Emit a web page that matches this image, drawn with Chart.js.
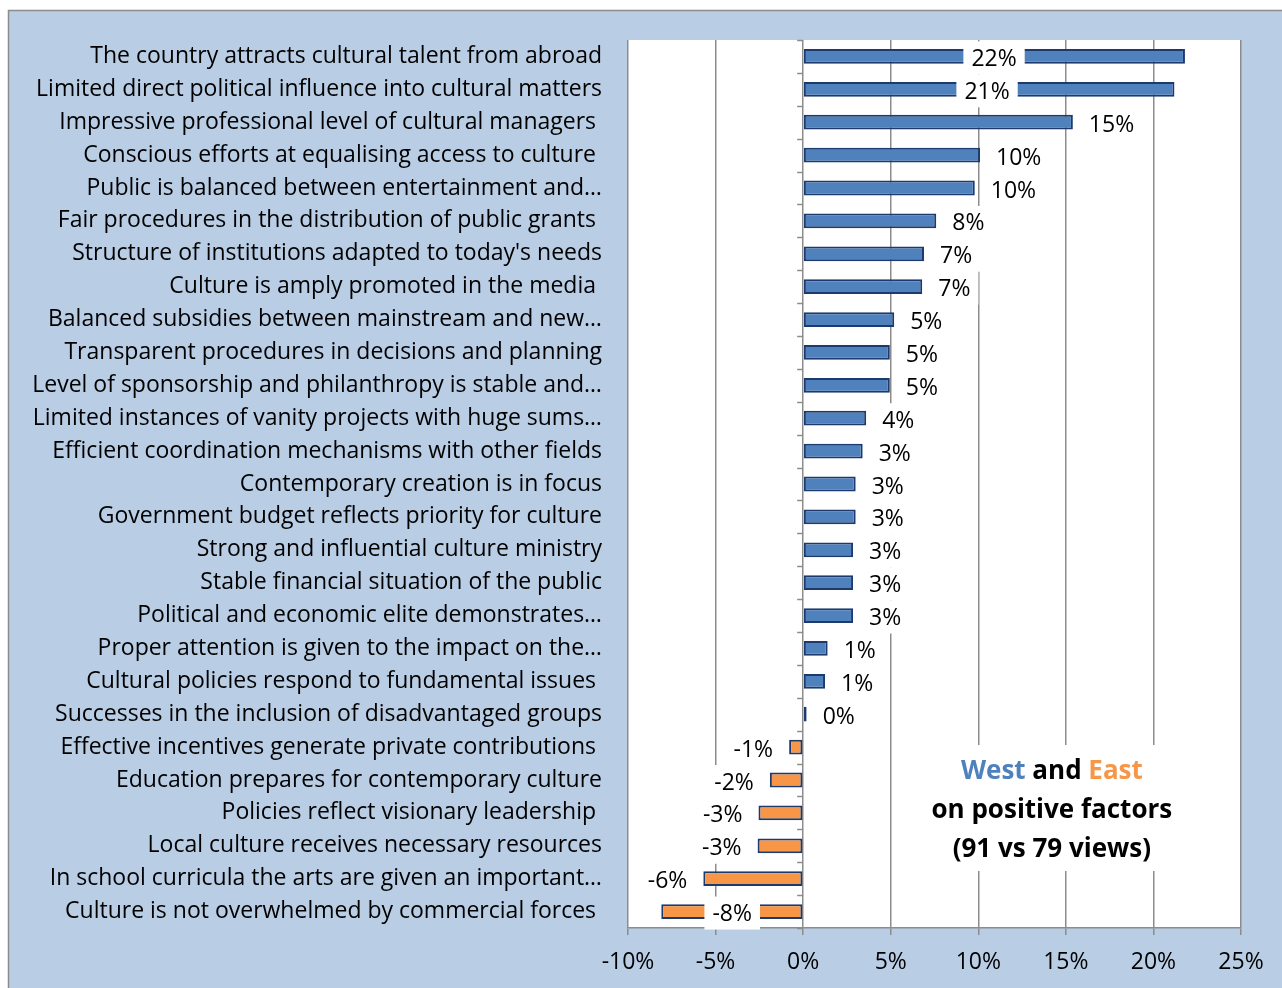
<!DOCTYPE html>
<html>
<head>
<meta charset="utf-8">
<script src="https://cdn.jsdelivr.net/npm/chart.js@4.4.1/dist/chart.umd.min.js"></script>
<style>
  html, body { margin: 0; padding: 0; background: #ffffff; }
  #wrap { width: 1282px; height: 988px; position: relative; }
</style>
</head>
<body>
<div id="wrap"><canvas id="myChart" width="1282" height="988"></canvas></div>
<script>
// ---- data ----
const categories = [
  'The country attracts cultural talent from abroad',
  'Limited direct political influence into cultural matters',
  'Impressive professional level of cultural managers ',
  'Conscious efforts at equalising access to culture ',
  'Public is balanced between entertainment and…',
  'Fair procedures in the distribution of public grants ',
  "Structure of institutions adapted to today's needs",
  'Culture is amply promoted in the media ',
  'Balanced subsidies between mainstream and new…',
  'Transparent procedures in decisions and planning',
  'Level of sponsorship and philanthropy is stable and…',
  'Limited instances of vanity projects with huge sums…',
  'Efficient coordination mechanisms with other fields',
  'Contemporary creation is in focus',
  'Government budget reflects priority for culture',
  'Strong and influential culture ministry',
  'Stable financial situation of the public',
  'Political and economic elite demonstrates…',
  'Proper attention is given to the impact on the…',
  'Cultural policies respond to fundamental issues ',
  'Successes in the inclusion of disadvantaged groups',
  'Effective incentives generate private contributions ',
  'Education prepares for contemporary culture',
  'Policies reflect visionary leadership ',
  'Local culture receives necessary resources',
  'In school curricula the arts are given an important…',
  'Culture is not overwhelmed by commercial forces '
];
const values = [21.8, 21.2, 15.4, 10.1, 9.8, 7.6, 6.9, 6.8, 5.2, 4.95, 4.95, 3.6, 3.4, 3.0, 3.0, 2.85, 2.85, 2.85, 1.4, 1.25, 0.2, -0.8, -1.9, -2.55, -2.6, -5.7, -8.1];
// labels that were dragged onto the bar (value where the label is centred)
const labelAt = [10.9, 10.5, null, null, null, null, null, null, null, null, null, null, null, null, null, null, null, null, null, null, null, null, null, null, null, null, -4.05];
const xTicks = [-10, -5, 0, 5, 10, 15, 20, 25];

const FONT = '"Open Sans", Lato, sans-serif';
const FSIZE = 23;

const barColors = values.map(v => v >= 0.5 ? '#4f81bd' : (v < 0 ? '#f79646' : '#e8a09a'));

// light blue frame behind everything
const framePlugin = {
  id: 'frame',
  beforeDraw(chart) {
    const c = chart.ctx;
    c.save();
    c.fillStyle = '#ffffff';
    c.fillRect(0, 0, chart.width, chart.height);
    c.fillStyle = '#b9cde5';
    c.fillRect(8, 10, chart.width, chart.height);
    c.strokeStyle = '#8c8c8c';
    c.lineWidth = 1.5;
    c.strokeRect(8.5, 10.5, chart.width, chart.height);
    const a = chart.chartArea;
    c.fillStyle = '#ffffff';
    c.fillRect(a.left, a.top, a.right - a.left, a.bottom - a.top);
    c.restore();
  }
};

// tick marks on the zero axis, labels, note
const extrasPlugin = {
  id: 'extras',
  afterDatasetsDraw(chart) {
    const c = chart.ctx;
    const xs = chart.scales.x, ys = chart.scales.y;
    const x0 = xs.getPixelForValue(0);
    c.save();
    c.strokeStyle = '#8c8c8c';
    c.lineWidth = 1.5;
    for (let i = 0; i <= categories.length; i++) {
      const y = Math.round(ys.getPixelForValue(i - 0.5)) + 0.5;
      c.beginPath();
      c.moveTo(x0 - 6, y);
      c.lineTo(x0, y);
      c.stroke();
    }

    // data labels
    c.font = FSIZE + 'px ' + FONT;
    c.textBaseline = 'middle';
    const meta = chart.getDatasetMeta(0);
    meta.data.forEach((bar, i) => {
      const v = values[i];
      const txt = Math.round(v) + '%';
      const w = c.measureText(txt).width;
      let cx;
      if (labelAt[i] !== null) cx = xs.getPixelForValue(labelAt[i]);
      else if (v >= 0) cx = bar.x + 16 + w / 2;
      else cx = bar.x - 16 - w / 2;
      const cy = bar.y + 2;
      c.fillStyle = '#ffffff';
      c.fillRect(cx - w / 2 - 8, cy - 17, w + 16, 33);
      c.fillStyle = '#000000';
      c.textAlign = 'center';
      c.fillText(txt, cx, cy + 1);
    });

    // note box
    const nx = xs.getPixelForValue(14.2);
    c.fillStyle = '#ffffff';
    c.fillRect(nx - 132, 745, 264, 126);
    c.font = 'bold 26px ' + FONT;
    const parts = [['West', '#4f81bd'], [' and ', '#000000'], ['East', '#f79646']];
    let total = parts.reduce((s, p) => s + c.measureText(p[0]).width, 0);
    let px = nx - total / 2;
    c.textAlign = 'left';
    parts.forEach(p => {
      c.fillStyle = p[1];
      c.fillText(p[0], px, 772);
      px += c.measureText(p[0]).width;
    });
    c.fillStyle = '#000000';
    c.textAlign = 'center';
    c.fillText('on positive factors', nx, 811);
    c.fillText('(91 vs 79 views)', nx, 850);
    c.restore();
  }
};

const ctx = document.getElementById('myChart');

new Chart(ctx, {
  type: 'bar',
  data: {
    labels: categories,
    datasets: [{
      data: values,
      backgroundColor: barColors,
      borderColor: '#1c3a6e',
      borderWidth: 2,
      borderSkipped: false,
      barPercentage: 0.45,
      categoryPercentage: 1
    }]
  },
  options: {
    indexAxis: 'y',
    responsive: false,
    animation: false,
    layout: { padding: { top: 40, right: 41, left: 0, bottom: 0 } },
    plugins: {
      legend: { display: false },
      tooltip: { enabled: false }
    },
    scales: {
      x: {
        min: -10,
        max: 25,
        afterBuildTicks: s => { s.ticks = xTicks.map(v => ({ value: v })); },
        afterFit: s => { s.height = 60; },
        grid: { color: '#8c8c8c', lineWidth: 1.5, tickLength: 7, drawTicks: true },
        border: { display: true, color: '#8c8c8c', width: 1.5 },
        ticks: {
          callback: v => v + '%',
          color: '#000000',
          padding: 14,
          maxRotation: 0,
          font: { family: FONT, size: FSIZE }
        }
      },
      y: {
        afterFit: s => { s.width = 628; },
        grid: { display: false, drawTicks: false },
        border: { display: false },
        ticks: {
          color: '#000000',
          padding: 26,
          autoSkip: false,
          font: { family: FONT, size: FSIZE }
        }
      }
    }
  },
  plugins: [framePlugin, extrasPlugin]
});
</script>
</body>
</html>
